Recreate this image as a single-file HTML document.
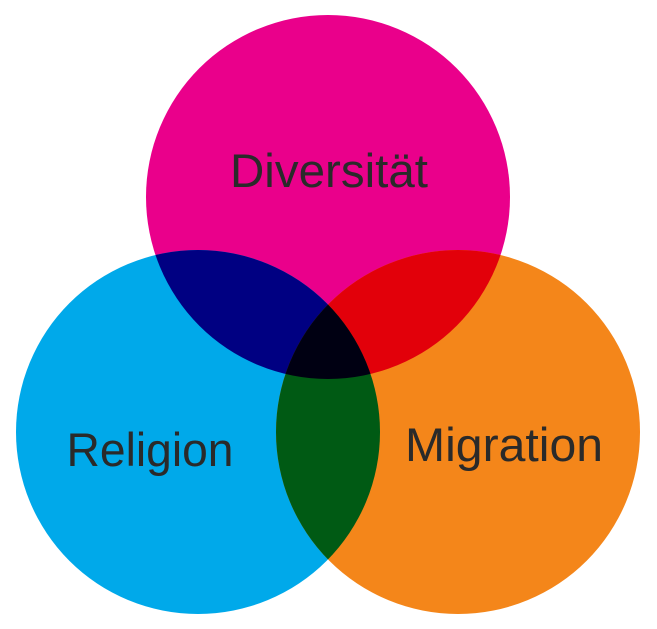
<!DOCTYPE html>
<html><head><meta charset="utf-8"><style>html,body{margin:0;padding:0;background:#fff}svg{display:block}</style></head>
<body>
<svg width="657" height="629" viewBox="0 0 657 629" xmlns="http://www.w3.org/2000/svg">
<defs>
<clipPath id="cT"><circle cx="328" cy="197" r="182"/></clipPath>
<clipPath id="cL"><circle cx="198" cy="432" r="182"/></clipPath>
<clipPath id="cR"><circle cx="458" cy="432" r="182"/></clipPath>
</defs>
<circle cx="328" cy="197" r="182" fill="#EA008B"/>
<circle cx="198" cy="432" r="182" fill="#00A9EA"/>
<circle cx="458" cy="432" r="182" fill="#F4861A"/>
<circle cx="198" cy="432" r="182" fill="#000082" clip-path="url(#cT)"/>
<circle cx="458" cy="432" r="182" fill="#E2000A" clip-path="url(#cT)"/>
<circle cx="458" cy="432" r="182" fill="#005A14" clip-path="url(#cL)"/>
<g clip-path="url(#cT)"><circle cx="458" cy="432" r="182" fill="#000012" clip-path="url(#cL)"/></g>
<g font-family="Liberation Sans, sans-serif" font-size="47" fill="#2a2a2a" text-anchor="middle">
<text x="329" y="187" textLength="198" lengthAdjust="spacingAndGlyphs">Diversität</text>
<text x="150" y="466" textLength="167" lengthAdjust="spacingAndGlyphs">Religion</text>
<text x="504" y="461" textLength="198" lengthAdjust="spacingAndGlyphs">Migration</text>
</g>
</svg>
</body></html>
